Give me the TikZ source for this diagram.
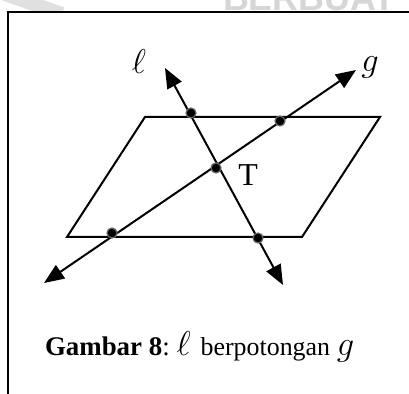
\documentclass[tikz,border=0pt]{standalone}
\usepackage{fontspec}
\setmainfont{Liberation Serif}
\setsansfont{Liberation Sans}
\usetikzlibrary{arrows.meta}

\begin{document}
\begin{tikzpicture}[x=0.5bp, y=-0.5bp,
  line width=1bp,
  bothtips/.style={{Triangle[length=10bp, width=8bp]}-{Triangle[length=10bp, width=8bp]}},
  titik/.style={circle, draw=black!60, fill=black, inner sep=0pt, minimum size=5bp, line width=0.6bp},
  lbl/.style={font=\fontsize{17}{19}\selectfont},
]
\useasboundingbox (0,0) rectangle (409,394);
% faint scan watermark at the top
\begin{scope}
  \clip (0,0) rectangle (409,11);
  \draw[black!12, line width=7bp] (5,-6) -- (62,14);
  \node[font=\sffamily\bfseries\fontsize{18}{20}\selectfont, text=black!16, anchor=base west, inner sep=0pt] (wm) at (222,11) {BERBUAT};
\end{scope}
% frame
\draw[line width=1.2bp] (409,12) -- (8,12) -- (8,394);
% bidang (parallelogram)
\draw (145,117) -- (380,117) -- (302,237) -- (67,237) -- cycle;
% free ends of the two lines
\coordinate (l1) at (165,68);
\coordinate (l2) at (283,285);
\coordinate (g1) at (356,70);
\coordinate (g2) at (44,283);
\draw[bothtips] (l2) -- (l1);
\draw[bothtips] (g2) -- (g1);
\foreach \n/\px/\py in {la/191/113, lb/258/238, ga/280/121, gb/112/233, T/216/168} {
  \node[titik] (\n) at (\px,\py) {};
}
\node[lbl] (ell) at (139,62) {$\ell$};
\node[lbl] (gee) at (370,67) {$g$};
\node[font=\fontsize{16}{18}\selectfont] (tlab) at (248,175) {T};
\node[font=\fontsize{13.5}{16}\selectfont, anchor=base west, inner sep=0pt] (cap) at (44,355)
  {\textbf{Gambar 8}:\ {\fontsize{18}{20}\selectfont$\ell$}\hspace{5bp}{\fontsize{13}{15}\selectfont berpotongan}\ {\fontsize{17}{19}\selectfont$g$}};
\end{tikzpicture}
\end{document}
